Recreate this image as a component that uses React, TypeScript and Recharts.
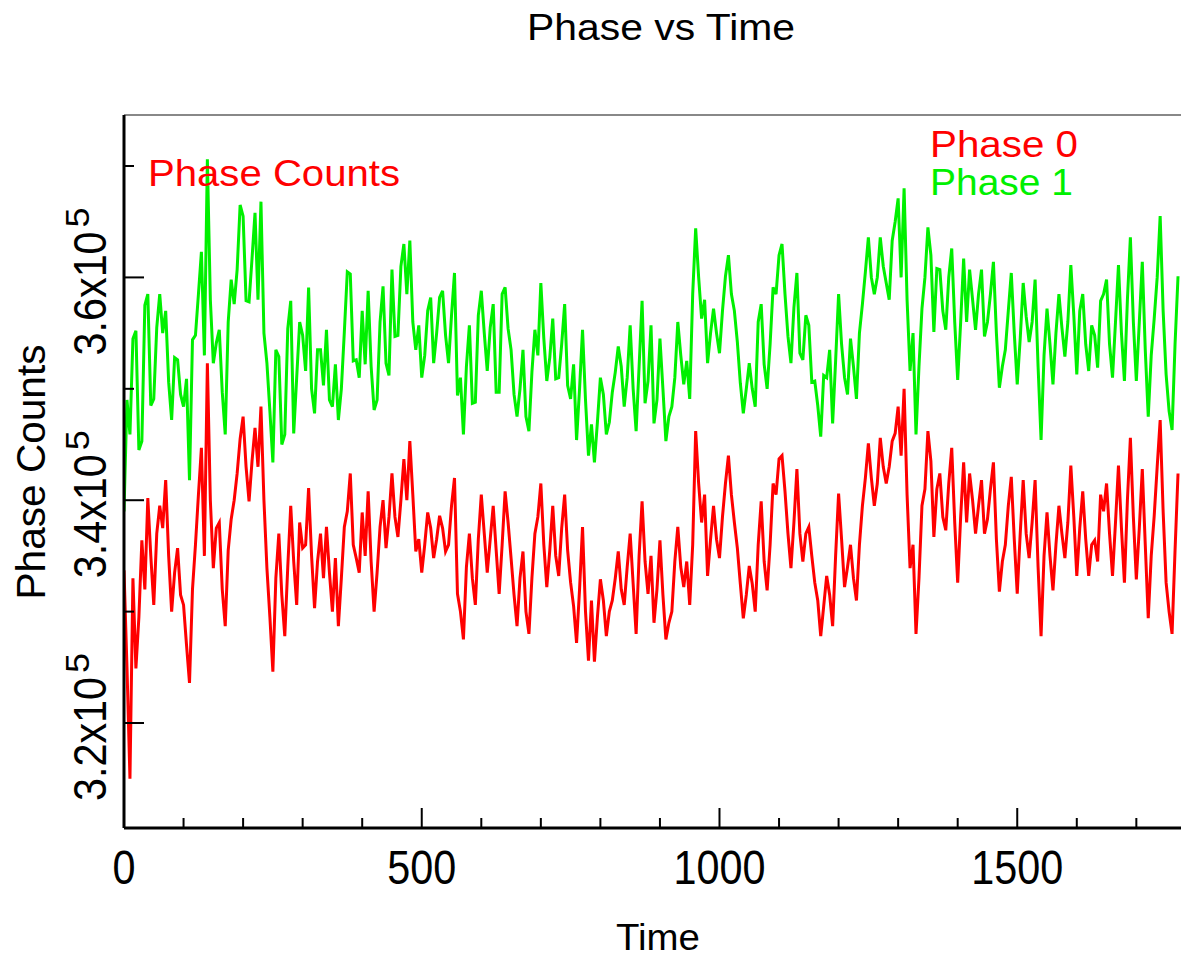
import { LineChart, Line, XAxis, YAxis, ReferenceLine } from 'recharts';

const FONT = '"Liberation Sans", Arial, sans-serif';

// time in seconds
const TIME = [
  0, 5, 10, 15, 20, 25, 30, 35, 40, 45, 50, 55, 60, 65, 70, 75, 80, 85, 90, 95,
  100, 105, 110, 115, 120, 125, 130, 135, 140, 145, 150, 155, 160, 165, 170, 175, 180, 185, 190, 195,
  200, 205, 210, 215, 220, 225, 230, 235, 240, 245, 250, 255, 260, 265, 270, 275, 280, 285, 290, 295,
  300, 305, 310, 315, 320, 325, 330, 335, 340, 345, 350, 355, 360, 365, 370, 375, 380, 385, 390, 395,
  400, 405, 410, 415, 420, 425, 430, 435, 440, 445, 450, 455, 460, 465, 470, 475, 480, 485, 490, 495,
  500, 505, 510, 515, 520, 525, 530, 535, 540, 545, 550, 555, 560, 565, 570, 575, 580, 585, 590, 595,
  600, 605, 610, 615, 620, 625, 630, 635, 640, 645, 650, 655, 660, 665, 670, 675, 680, 685, 690, 695,
  700, 705, 710, 715, 720, 725, 730, 735, 740, 745, 750, 755, 760, 765, 770, 775, 780, 785, 790, 795,
  800, 805, 810, 815, 820, 825, 830, 835, 840, 845, 850, 855, 860, 865, 870, 875, 880, 885, 890, 895,
  900, 905, 910, 915, 920, 925, 930, 935, 940, 945, 950, 955, 960, 965, 970, 975, 980, 985, 990, 995,
  1000, 1005, 1010, 1015, 1020, 1025, 1030, 1035, 1040, 1045, 1050, 1055, 1060, 1065, 1070, 1075, 1080, 1085, 1090, 1095,
  1100, 1105, 1110, 1115, 1120, 1125, 1130, 1135, 1140, 1145, 1150, 1155, 1160, 1165, 1170, 1175, 1180, 1185, 1190, 1195,
  1200, 1205, 1210, 1215, 1220, 1225, 1230, 1235, 1240, 1245, 1250, 1255, 1260, 1265, 1270, 1275, 1280, 1285, 1290, 1295,
  1300, 1305, 1310, 1315, 1320, 1325, 1330, 1335, 1340, 1345, 1350, 1355, 1360, 1365, 1370, 1375, 1380, 1385, 1390, 1395,
  1400, 1405, 1410, 1415, 1420, 1425, 1430, 1435, 1440, 1445, 1450, 1455, 1460, 1465, 1470, 1475, 1480, 1485, 1490, 1495,
  1500, 1505, 1510, 1515, 1520, 1525, 1530, 1535, 1540, 1545, 1550, 1555, 1560, 1565, 1570, 1575, 1580, 1585, 1590, 1595,
  1600, 1605, 1610, 1615, 1620, 1625, 1630, 1635, 1640, 1645, 1650, 1655, 1660, 1665, 1670, 1675, 1680, 1685, 1690, 1695,
  1700, 1705, 1710, 1715, 1720, 1725, 1730, 1735, 1740, 1745, 1750, 1755, 1760, 1765, 1770,
];

// Phase 0 counts (red)
const PHASE0 = [
  333700, 325000, 315000, 333000, 324900, 329500, 336400, 332000, 340200, 335000, 330600, 337000, 339500, 337500, 341800, 335000, 330000, 333500, 335700, 331500,
  330600, 327000, 323600, 332000, 336000, 340500, 344700, 335000, 352300, 340000, 333900, 337500, 338000, 332000, 328700, 335500, 338300, 340000, 342400, 345500,
  347500, 343000, 339900, 343500, 346500, 343000, 348400, 340000, 333900, 329500, 324600, 333000, 337000, 331500, 327800, 334000, 339500, 334500, 330600, 338000,
  335700, 336000, 341100, 335000, 330300, 334500, 337000, 333000, 337600, 333500, 330000, 334800, 328700, 333000, 337600, 339000, 342400, 336000, 334800, 333500,
  338900, 335000, 340800, 334500, 330000, 333500, 337600, 340000, 335700, 338500, 342400, 338500, 336700, 340000, 343700, 340000, 345300, 340500, 335400, 336500,
  333500, 336000, 338900, 337500, 334800, 336500, 338600, 337500, 335400, 336000, 339500, 342000, 331600, 330000, 327500, 334000, 337000, 333000, 330600, 336500,
  340500, 337000, 333500, 336500, 339500, 335500, 331600, 336000, 340800, 338000, 334800, 331500, 328700, 333000, 335400, 330000, 328000, 333000, 337000, 338500,
  341500, 336000, 332200, 335500, 339500, 335000, 333200, 337500, 340500, 335500, 332600, 330500, 327200, 332000, 337600, 330000, 325600, 331000, 325500, 329500,
  332900, 331000, 327800, 330000, 331000, 333000, 335400, 332000, 330600, 334000, 337000, 332500, 328000, 335000, 339900, 334500, 331600, 335000, 329000, 332000,
  336400, 331500, 327500, 329000, 330000, 334500, 337600, 334000, 332200, 334500, 330600, 336000, 346200, 341500, 338000, 340500, 333200, 336500, 339500, 336500,
  334800, 338500, 341500, 344000, 340500, 338000, 335700, 332500, 329400, 331500, 334100, 332500, 330000, 336000, 339900, 334500, 331900, 336000, 341500, 340500,
  343700, 344000, 340800, 337000, 333900, 338000, 342800, 337000, 334500, 337000, 337600, 335000, 332600, 331000, 327800, 330500, 333200, 331500, 328700, 335000,
  340600, 336500, 332200, 334000, 336000, 333000, 331000, 336000, 339500, 342000, 345100, 342000, 339500, 341500, 345600, 343000, 341500, 343000, 345300, 346000,
  348400, 344000, 350000, 340500, 333900, 336000, 328000, 333000, 339500, 341000, 346200, 343500, 336700, 341000, 342400, 338500, 337300, 341500, 344700, 338000,
  332600, 338500, 343400, 338000, 342400, 340000, 337000, 339500, 341800, 337000, 338300, 341000, 343400, 336500, 331800, 334500, 336000, 339500, 342100, 336500,
  331600, 337000, 341800, 337000, 334800, 338000, 341800, 334000, 327800, 335000, 338900, 335000, 331900, 336000, 339500, 337000, 334800, 338000, 343100, 338500,
  333200, 337500, 340800, 336500, 333200, 336000, 336400, 334500, 340500, 339000, 341500, 337000, 333200, 338000, 343100, 337500, 332600, 340000, 345600, 338500,
  332900, 337500, 342800, 336000, 329400, 335000, 338600, 343000, 347200, 339000, 332600, 330000, 328000, 335500, 342400,
];

// Phase 1 counts (green)
const PHASE1 = [
  339000, 349000, 345900, 354500, 355200, 344500, 345300, 357500, 358500, 348500, 349100, 355500, 358500, 355000, 357000, 350600, 347200, 352800, 352600, 349500,
  348400, 350900, 341800, 354400, 354800, 358500, 362300, 353000, 370600, 358000, 352300, 354100, 355300, 349700, 345900, 356000, 359800, 357600, 360700, 366500,
  365500, 357900, 357800, 361700, 365800, 358000, 366800, 355000, 352300, 348000, 343400, 353500, 352900, 345000, 345900, 355400, 357900, 346000, 351000, 356000,
  354800, 351600, 359100, 350000, 347800, 353500, 353500, 350300, 355300, 349000, 348400, 352200, 347200, 350000, 355100, 360500, 360300, 352500, 352600, 351000,
  357000, 352200, 358800, 352000, 348100, 349000, 356000, 359200, 352300, 351200, 360700, 354700, 354800, 361000, 363000, 358500, 363300, 356000, 353500, 355700,
  351000, 353000, 357000, 358200, 352300, 355000, 358200, 358800, 354800, 352300, 356600, 360400, 349400, 351000, 345900, 352000, 355700, 348700, 348800, 356600,
  358800, 355000, 351600, 355500, 357600, 349700, 349700, 358500, 359100, 355400, 353500, 349500, 347500, 350000, 353500, 347500, 346200, 351500, 355300, 353000,
  359500, 354500, 350700, 352800, 356300, 350900, 351000, 354000, 357600, 350300, 349100, 352200, 345400, 350000, 355300, 349000, 344000, 346800, 343400, 347000,
  351000, 349500, 345900, 347000, 349700, 351500, 353800, 352000, 348400, 351000, 355700, 350000, 346200, 352000, 357900, 348700, 350700, 355700, 346900, 349000,
  354500, 350000, 345300, 347500, 348400, 351000, 356000, 353000, 350400, 352500, 349100, 358500, 364400, 360000, 356300, 358000, 352300, 355000, 357200, 355000,
  353200, 357000, 360100, 362000, 358500, 357000, 354200, 350500, 347800, 350000, 352300, 350000, 348400, 356000, 357600, 352200, 350000, 354000, 359100, 358500,
  362000, 363000, 358500, 354700, 352300, 357300, 360400, 353200, 352600, 356600, 355700, 350600, 350700, 348500, 345700, 351200, 351000, 353500, 346900, 352500,
  358500, 354000, 351000, 349500, 354500, 352000, 349100, 355000, 357600, 360500, 363600, 360000, 358500, 360000, 363600, 361000, 359500, 358000, 363300, 365000,
  367100, 360000, 368000, 358000, 351600, 355000, 345900, 352000, 357200, 360000, 364500, 362000, 355100, 360800, 360700, 357000, 355300, 360000, 362600, 356000,
  350800, 356000, 361700, 356000, 360700, 358000, 355300, 358500, 360700, 354700, 356000, 358500, 361400, 355000, 350100, 352000, 353500, 357000, 360400, 355000,
  350400, 354500, 359500, 356500, 354200, 356000, 359800, 352000, 345400, 353000, 357200, 354000, 350400, 355000, 358500, 355500, 352900, 356000, 361100, 356600,
  351300, 357000, 358500, 354000, 351600, 355700, 354800, 351900, 357900, 358500, 359800, 354000, 351000, 356000, 361100, 355000, 350700, 358000, 363600, 356000,
  350700, 356000, 361400, 353500, 347500, 353000, 356300, 360000, 365500, 357000, 351300, 348000, 346300, 354000, 360100,
];

const X_TICKS = [0, 100, 200, 300, 400, 500, 600, 700, 800, 900, 1000, 1100, 1200, 1300, 1400, 1500, 1600, 1700];
const X_LABELS = [0, 500, 1000, 1500];
const Y_TICKS = [320000, 330000, 340000, 350000, 360000, 370000];
const Y_LABELS = [320000, 340000, 360000];

const data = TIME.map((t, i) => ({ time: t, phase0: PHASE0[i], phase1: PHASE1[i] }));

// eslint-disable-next-line @typescript-eslint/no-explicit-any
const XTick = (props: any) => {
  const { x, y, payload } = props;
  const v = payload.value;
  const major = X_LABELS.includes(v);
  const label = String(v);
  return (
    <g>
      <line x1={x} x2={x} y1={y} y2={y - (major ? 20 : 10)} stroke="#000" strokeWidth={2} />
      {major && (
        <text
          x={x}
          y={y + 56}
          textAnchor="middle"
          fontFamily={FONT}
          fontSize={48}
          fill="#000"
          textLength={label.length * 23}
          lengthAdjust="spacingAndGlyphs"
        >
          {label}
        </text>
      )}
    </g>
  );
};

// eslint-disable-next-line @typescript-eslint/no-explicit-any
const YTick = (props: any) => {
  const { x, y, payload } = props;
  const v = payload.value;
  const major = Y_LABELS.includes(v);
  const mant = (v / 1e5).toFixed(1);
  return (
    <g>
      <line x1={x} x2={x + (major ? 20 : 10)} y1={y} y2={y} stroke="#000" strokeWidth={2} />
      {major && (
        <g transform={`translate(106, ${y}) rotate(-90)`}>
          <text x={-78} y={0} fontFamily={FONT} fontSize={46} fill="#000" textLength={124} lengthAdjust="spacingAndGlyphs">
            {`${mant}x10`}
          </text>
          <text x={50} y={-17} fontFamily={FONT} fontSize={34} fill="#000" textLength={20} lengthAdjust="spacingAndGlyphs">
            5
          </text>
        </g>
      )}
    </g>
  );
};

export default function App() {
  return (
    <div style={{ position: 'absolute', left: 0, top: 0, width: 1181, height: 961, background: '#fff' }}>
      <LineChart width={1181} height={961} data={data} margin={{ top: 115, right: 0, bottom: 73, left: 0 }}>
        <XAxis
          dataKey="time"
          type="number"
          domain={[0, 1775]}
          ticks={X_TICKS}
          tick={XTick}
          tickLine={false}
          tickSize={0}
          tickMargin={0}
          height={60}
          axisLine={{ stroke: '#000', strokeWidth: 3 }}
          allowDataOverflow
        />
        <YAxis
          type="number"
          domain={[310575, 374580]}
          ticks={Y_TICKS}
          tick={YTick}
          tickLine={false}
          tickSize={0}
          tickMargin={0}
          width={124}
          axisLine={{ stroke: '#000', strokeWidth: 3 }}
          allowDataOverflow
        />
        <ReferenceLine y={374580} stroke="#888" strokeWidth={2} />
        <Line type="linear" dataKey="phase0" stroke="#ff0000" strokeWidth={3} dot={false} isAnimationActive={false} />
        <Line type="linear" dataKey="phase1" stroke="#00f000" strokeWidth={3} dot={false} isAnimationActive={false} />
      </LineChart>
      <svg width={1181} height={961} style={{ position: 'absolute', left: 0, top: 0, pointerEvents: 'none' }}>
        <text x={661} y={40} textAnchor="middle" fontFamily={FONT} fontSize={37} fill="#000" textLength={268} lengthAdjust="spacingAndGlyphs">
          Phase vs Time
        </text>
        <text x={658} y={950} textAnchor="middle" fontFamily={FONT} fontSize={36} fill="#000" textLength={84} lengthAdjust="spacingAndGlyphs">
          Time
        </text>
        <text transform="translate(45, 472) rotate(-90)" textAnchor="middle" fontFamily={FONT} fontSize={40} fill="#000" textLength={255} lengthAdjust="spacingAndGlyphs">
          Phase Counts
        </text>
        <text x={148} y={186} fontFamily={FONT} fontSize={36} fill="#ff0000" textLength={252} lengthAdjust="spacingAndGlyphs">
          Phase Counts
        </text>
        <text x={930} y={157} fontFamily={FONT} fontSize={36} fill="#ff0000" textLength={148} lengthAdjust="spacingAndGlyphs">
          Phase 0
        </text>
        <text x={930} y={195} fontFamily={FONT} fontSize={36} fill="#00f000" textLength={143} lengthAdjust="spacingAndGlyphs">
          Phase 1
        </text>
      </svg>
    </div>
  );
}
